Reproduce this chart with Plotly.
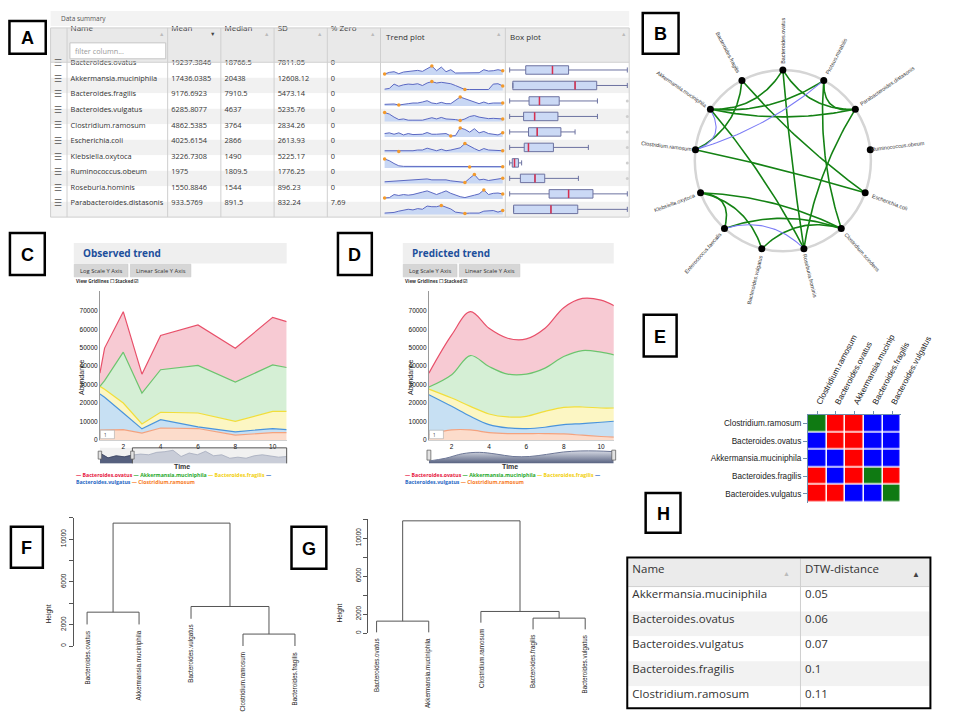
import math
import plotly.graph_objects as go

W, H = 957, 718

# ======================= DATA =======================
# ---- Panel A : data summary ----
summary_names = ['Bacteroides.ovatus', 'Akkermansia.muciniphila', 'Bacteroides.fragilis',
                 'Bacteroides.vulgatus', 'Clostridium.ramosum', 'Escherichia.coli',
                 'Klebsiella.oxytoca', 'Ruminococcus.obeum', 'Roseburia.hominis',
                 'Parabacteroides.distasonis']
summary_mean = [19237.3846, 17436.0385, 9176.6923, 6285.8077, 4862.5385, 4025.6154,
                3226.7308, 1975, 1550.8846, 933.5769]
summary_median = [18766.5, 20438, 7910.5, 4637, 3764, 2866, 1490, 1809.5, 1544, 891.5]
summary_sd = [7811.05, 12608.12, 5473.14, 5235.76, 2834.26, 2613.93, 5225.17, 1776.25, 896.23, 832.24]
summary_zero = [0, 0, 0, 0, 0, 0, 0, 0, 0, 7.69]

# sparkline levels (relative abundance per sample, read from the trend column)
trend_levels = [
    [3, 8, 10, 4, 9, 11, 12, 14, 11, 18, 27, 13, 24, 10, 16, 6, 6, 6, 6, 6, 7, 16, 12, 13, 16, 13],
    [6, 8, 20, 14, 18, 20, 19, 21, 16, 23, 27, 23, 25, 23, 21, 16, 10, 5, 5, 5, 5, 5, 5, 20, 21, 15],
    [8, 9, 9, 6, 9, 10, 12, 12, 15, 19, 12, 10, 14, 10, 10, 20, 30, 25, 20, 15, 10, 15, 10, 12, 13, 12],
    [31, 26, 16, 8, 10, 6, 6, 6, 6, 10, 14, 10, 15, 10, 10, 8, 5, 10, 18, 21, 16, 14, 11, 12, 11, 10],
    [13, 15, 11, 15, 9, 13, 10, 11, 11, 16, 11, 11, 11, 13, 6, 7, 29, 25, 17, 27, 15, 19, 13, 11, 9, 15],
    [10, 10, 10, 8, 10, 10, 10, 12, 12, 17, 13, 10, 14, 10, 12, 16, 18, 30, 22, 16, 10, 16, 12, 12, 10, 10],
    [32, 26, 16, 8, 6, 6, 6, 6, 5, 5, 6, 5, 6, 5, 6, 6, 6, 5, 4, 5, 6, 5, 6, 5, 5, 5],
    [7, 8, 9, 9, 10, 11, 11, 12, 13, 16, 13, 13, 12, 13, 10, 8, 7, 5, 18, 30, 13, 15, 11, 13, 17, 18],
    [9, 10, 20, 17, 20, 18, 20, 23, 28, 32, 27, 20, 26, 32, 24, 18, 13, 10, 15, 18, 22, 35, 20, 24, 25, 22],
    [8, 9, 10, 14, 16, 20, 18, 22, 20, 30, 28, 28, 32, 26, 21, 11, 8, 7, 8, 8, 8, 14, 14, 16, 11, 16],
]
# box-plot statistics (abundance units)
box_scale_min = [6500, 0, 1500, 500, 1000, 800, 700, 200, 200, 0]
box_lowerfence = [6500, 990, 1500, 500, 1000, 800, 700, 200, 200, 85]
box_q1 = [11100, 990, 5670, 2810, 2890, 2400, 1120, 880, 1100, 85]
box_q3 = [23380, 27200, 12160, 8500, 6140, 5610, 2130, 2430, 2100, 1470]
box_upperfence = [40200, 36760, 20380, 15050, 7560, 9450, 2650, 4570, 2883, 2540]
box_outlier = [None, None, 26810, 20000, 12800, 13730, 19870, 7680, None, None]

# ---- Panel B : interaction network ----
net_nodes = ['Bacteroides.ovatus', 'Proteus.mirabilis', 'Parabacteroides.distasonis',
             'Ruminococcus.obeum', 'Escherichia.coli', 'Clostridium.scindens',
             'Roseburia.hominis', 'Bacteroides.vulgatus', 'Enterococcus.faecalis',
             'Klebsiella.oxytoca', 'Clostridium.ramosum', 'Akkermansia.muciniphila',
             'Bacteroides.fragilis']
positive_edges = [
    ('Bacteroides.ovatus', 'Akkermansia.muciniphila'),
    ('Bacteroides.ovatus', 'Parabacteroides.distasonis'),
    ('Bacteroides.ovatus', 'Roseburia.hominis'),
    ('Bacteroides.fragilis', 'Clostridium.ramosum'),
    ('Bacteroides.fragilis', 'Escherichia.coli'),
    ('Akkermansia.muciniphila', 'Proteus.mirabilis'),
    ('Akkermansia.muciniphila', 'Parabacteroides.distasonis'),
    ('Akkermansia.muciniphila', 'Roseburia.hominis'),
    ('Proteus.mirabilis', 'Parabacteroides.distasonis'),
    ('Proteus.mirabilis', 'Clostridium.scindens'),
    ('Parabacteroides.distasonis', 'Roseburia.hominis'),
    ('Clostridium.ramosum', 'Escherichia.coli'),
    ('Klebsiella.oxytoca', 'Clostridium.scindens'),
    ('Klebsiella.oxytoca', 'Enterococcus.faecalis'),
    ('Klebsiella.oxytoca', 'Bacteroides.vulgatus'),
    ('Enterococcus.faecalis', 'Clostridium.scindens'),
    ('Bacteroides.vulgatus', 'Clostridium.scindens'),
]
negative_edges = [
    ('Proteus.mirabilis', 'Clostridium.ramosum'),
    ('Akkermansia.muciniphila', 'Clostridium.ramosum'),
    ('Enterococcus.faecalis', 'Roseburia.hominis'),
]

# ---- Panel C : observed trend (stacked) ----
obs_time = [0.75, 1, 2, 3, 4, 6, 8, 10, 10.75]
obs_ramosum = [5400, 5400, 5700, 3800, 6600, 6300, 2700, 4100, 4100]
obs_vulgatus = [19600, 17800, 9000, 2300, 4500, 900, 1800, 2200, 1600]
obs_fragilis = [4100, 4300, 5400, 2700, 4000, 7500, 5700, 9300, 9900]
obs_muciniphila = [0, 4700, 27500, 16700, 23000, 25700, 21200, 25100, 23700]
obs_ovatus = [7200, 17600, 21900, 10200, 18500, 21900, 18300, 25700, 24800]
nav_observed = [30, 16, 22, 19, 24, 27, 25, 32, 34, 38, 20, 30, 25, 35, 22, 25, 15, 18, 15, 22, 25, 22, 18, 20]

# ---- Panel D : predicted trend (stacked, smoothed) ----
pred_time = [0.78, 2, 3, 4, 5, 6, 7, 8, 9, 10, 10.7]
pred_ramosum = [3050, 5560, 5560, 4130, 3590, 3590, 3590, 3410, 2690, 1980, 1620]
pred_vulgatus = [21540, 12750, 7360, 4310, 3050, 2690, 3410, 5030, 6290, 7710, 8610]
pred_fragilis = [3050, 4490, 5390, 5740, 5920, 6640, 8620, 9330, 8970, 7720, 7180]
pred_muciniphila = [1080, 12560, 27460, 25670, 23160, 22800, 23330, 27460, 30520, 30160, 28720]
pred_ovatus = [7540, 21540, 23700, 20640, 19390, 19030, 21540, 26390, 28180, 28180, 26570]
nav_predicted = [7, 15, 28, 32, 27, 20, 20, 26, 33, 36, 36, 34]

trend_ticks_y = [0, 10000, 20000, 30000, 40000, 50000, 60000, 70000]
trend_ticks_x = [2, 4, 6, 8, 10]

# ---- Panel E : relation matrix (0 = green, 1 = red, 2 = blue) ----
matrix_cols = ['Clostridium.ramosum', 'Bacteroides.ovatus', 'Akkermansia.mucinip',
               'Bacteroides.fragilis', 'Bacteroides.vulgatus']
matrix_rows = ['Clostridium.ramosum', 'Bacteroides.ovatus', 'Akkermansia.muciniphila',
               'Bacteroides.fragilis', 'Bacteroides.vulgatus']
matrix_codes = [[0, 1, 1, 2, 2],
                [2, 1, 1, 2, 2],
                [2, 2, 1, 2, 2],
                [1, 2, 1, 0, 1],
                [1, 1, 2, 2, 0]]

# ---- Panels F, G : hierarchical clustering ----
f_leaves = ['Bacteroides.ovatus', 'Akkermansia.muciniphila', 'Bacteroides.vulgatus',
            'Clostridium.ramosum', 'Bacteroides.fragilis']
f_merges = [(-4, -5), (-1, -2), (-3, 1), (2, 3)]
f_heights = [1117, 3166, 3696, 11490]
g_leaves = ['Bacteroides.ovatus', 'Akkermansia.muciniphila', 'Clostridium.ramosum',
            'Bacteroides.fragilis', 'Bacteroides.vulgatus']
g_merges = [(-1, -2), (-4, -5), (-3, 2), (1, 3)]
g_heights = [1258, 1572, 2275, 11813]
dendro_ticks = [0, 2000, 4000, 6000, 8000, 10000, 12000]
dendro_ticktext = ['0', '2000', '', '6000', '', '10000', '']

# ---- Panel H : DTW distances ----
dtw_names = ['Akkermansia.muciniphila', 'Bacteroides.ovatus', 'Bacteroides.vulgatus',
             'Bacteroides.fragilis', 'Clostridium.ramosum']
dtw_values = [0.05, 0.06, 0.07, 0.1, 0.11]

# ======================= HELPERS =======================
fig = go.Figure()
shapes, annots, lay = [], [], {}
UI = 'Open Sans'
RF = 'Liberation Sans'
TXT_OFF = 18.0      # plotly table: text centre sits ~18 px below the cell top


def fx(p):
    return p / W


def fy(p):
    return 1 - p / H


def rect(x0, y0, x1, y1, fill='rgba(0,0,0,0)', line=None, lw=1, layer='below'):
    shapes.append(dict(type='rect', xref='paper', yref='paper', x0=fx(x0), x1=fx(x1),
                       y0=fy(y1), y1=fy(y0), fillcolor=fill, layer=layer,
                       line=dict(color=line if line else 'rgba(0,0,0,0)', width=lw if line else 0)))


def seg(x0, y0, x1, y1, color, w=1, layer='above'):
    shapes.append(dict(type='line', xref='paper', yref='paper', x0=fx(x0), x1=fx(x1),
                       y0=fy(y0), y1=fy(y1), line=dict(color=color, width=w), layer=layer))


def label(x, y, s, size=8, color='#333', xa='left', ya='middle', angle=0, family=UI, **kw):
    annots.append(dict(xref='paper', yref='paper', x=fx(x), y=fy(y), text=s, showarrow=False,
                       xanchor=xa, yanchor=ya, textangle=angle,
                       font=dict(size=size, color=color, family=family), **kw))


def axes(n, xpx, ypx, xr=None, yr=None):
    xa = dict(domain=[fx(xpx[0]), fx(xpx[1])], anchor='y%d' % n, visible=False, fixedrange=True)
    ya = dict(domain=[fy(ypx[1]), fy(ypx[0])], anchor='x%d' % n, visible=False, fixedrange=True)
    if xr is not None:
        xa['range'] = xr
    if yr is not None:
        ya['range'] = yr
    lay['xaxis%d' % n] = xa
    lay['yaxis%d' % n] = ya
    return 'x%d' % n, 'y%d' % n


def fmt(v):
    return ('%d' % v) if float(v).is_integer() else repr(v)


NOLINE = dict(color='rgba(0,0,0,0)', width=0)
NOFILL = dict(color='rgba(0,0,0,0)')

# ======================= PANEL A =======================
TOP, HDR, ROW = 20, 54.5, 15.55
N = len(summary_names)
BOT = HDR + N * ROW
rect(44, 3, 642, 18, fill='#f3f3f3')
label(53, 10.5, 'Data summary', size=6.5, color='#555')
rect(44, TOP, 642, HDR, fill='#e9e9e9')
for i in range(N):
    y0 = HDR + i * ROW
    rect(44, y0, 642, y0 + ROW, fill='white' if i % 2 == 0 else '#f1f1f1')

dy = TXT_OFF - ROW / 2 + 0.4
tab_y = [fy(BOT - dy + 12), fy(TOP - dy)]
# icon + name columns
fig.add_trace(go.Table(
    domain=dict(x=[fx(39), fx(205)], y=tab_y),
    columnwidth=[17.5, 148.5],
    header=dict(values=['', 'Name'], height=HDR - TOP, fill=NOFILL, line=NOLINE,
                align='left', font=dict(size=8, color='#333', family=UI)),
    cells=dict(values=[['☰'] * N, summary_names], height=ROW, fill=NOFILL, line=NOLINE,
               align='left', font=dict(size=[8.5, 7.4], color=['#555', '#333'], family=UI)),
))
# numeric columns
fig.add_trace(go.Table(
    domain=dict(x=[fx(160.5), fx(385)], y=tab_y),
    columnwidth=[55, 55, 55, 59.5],
    header=dict(values=['Mean', 'Median', 'SD', '% Zero'], height=HDR - TOP, fill=NOFILL, line=NOLINE,
                align='left', font=dict(size=8, color='#333', family=UI)),
    cells=dict(values=[[fmt(v) for v in summary_mean], [fmt(v) for v in summary_median],
                       [fmt(v) for v in summary_sd], [fmt(v) for v in summary_zero]],
               height=ROW, fill=NOFILL, line=NOLINE, align='left',
               font=dict(size=7.4, color='#333', family=UI)),
))
for x in [44, 61, 165, 220, 275, 330, 385, 514, 642]:
    seg(x, TOP, x, BOT, '#cfcfcf', 1)
for y in [TOP, HDR, BOT]:
    seg(44, y, 642, y, '#cfcfcf', 1)
rect(64, 35, 163, 51, fill='white', line='#c6c6c6', layer='above')
label(67, 43, 'filter column...', size=7.3, color='#999')
label(389, 29, 'Trend plot', size=8, color='#333')
label(517, 29, 'Box plot', size=8, color='#333')
for x, s, c in [(159, '▲', '#bbb'), (211, '▼', '#444'), (267, '▲', '#bbb'), (322, '▲', '#bbb'),
                (377, '▲', '#bbb'), (507, '▲', '#bbb'), (636, '▲', '#bbb')]:
    label(x, 26, s, size=5.5, color=c, xa='center')

for i in range(N):
    row_top = HDR + i * ROW
    vals = trend_levels[i]
    mn, mx = min(vals), max(vals)
    span = mx - mn
    xa, ya = axes(10 + i, (388, 512.5), (row_top + 3.5, row_top + 12.8),
                  [-0.25, len(vals) - 0.75], [mn - 0.125 * span, mx + 0.04 * span])
    idx = list(range(len(vals)))
    fig.add_trace(go.Scatter(x=idx, y=vals, xaxis=xa, yaxis=ya, mode='lines', fill='tozeroy',
                             fillcolor='#c8d7f4', line=dict(color='#5b68c2', width=1), hoverinfo='skip'))
    spots = sorted({vals.index(mn), vals.index(mx), len(vals) - 1})
    fig.add_trace(go.Scatter(x=spots, y=[vals[k] for k in spots], xaxis=xa, yaxis=ya, mode='markers',
                             marker=dict(size=3.5, color='#f39a2c'), cliponaxis=False, hoverinfo='skip'))

    lo = box_scale_min[i]
    hi = max(v for v in [box_upperfence[i], box_outlier[i]] if v is not None)
    pad = 0.012 * (hi - lo)
    xa, ya = axes(20 + i, (517, 641.5), (row_top + 1.5, row_top + 14), [lo - pad, hi + pad], [-0.5, 0.5])
    fig.add_trace(go.Box(orientation='h', y=[0], q1=[box_q1[i]], median=[summary_median[i]],
                         q3=[box_q3[i]], lowerfence=[box_lowerfence[i]], upperfence=[box_upperfence[i]],
                         xaxis=xa, yaxis=ya, width=0.68, whiskerwidth=0.6, boxpoints=False,
                         fillcolor='#cbd9f5', line=dict(color='#6c72a0', width=1), hoverinfo='skip'))
    fig.add_trace(go.Scatter(x=[summary_median[i]] * 2, y=[-0.33, 0.33], xaxis=xa, yaxis=ya, mode='lines',
                             line=dict(color='#d8304f', width=1.5), hoverinfo='skip'))
    if box_outlier[i] is not None:
        fig.add_trace(go.Scatter(x=[box_outlier[i]], y=[0], xaxis=xa, yaxis=ya, mode='markers',
                                 marker=dict(size=3, color='#cfcfcf'), cliponaxis=False, hoverinfo='skip'))

# ======================= PANEL B =======================
R_PX = 91.0
CX, CY = 800.8, 153.3
xa, ya = axes(2, (CX - 101, CX + 101), (CY - 101, CY + 101), [-1.11, 1.11], [-1.11, 1.11])
shapes.append(dict(type='circle', xref=xa, yref=ya, x0=-1, x1=1, y0=-1, y1=1,
                   line=dict(color='#d5d5d5', width=2.5), layer='below'))
nn = len(net_nodes)
ang = {nm: math.radians(90 - k * 360.0 / nn) for k, nm in enumerate(net_nodes)}
pos = {nm: (math.cos(a), math.sin(a)) for nm, a in ang.items()}


def curve(p, q, k=0.3, n=40):
    cx, cy = (p[0] + q[0]) / 2 * (1 - k), (p[1] + q[1]) / 2 * (1 - k)
    xs, ys = [], []
    for j in range(n + 1):
        t = j / n
        xs.append((1 - t) ** 2 * p[0] + 2 * (1 - t) * t * cx + t ** 2 * q[0])
        ys.append((1 - t) ** 2 * p[1] + 2 * (1 - t) * t * cy + t ** 2 * q[1])
    return xs, ys


for edges, color, width in [(positive_edges, '#148214', 1.6), (negative_edges, '#7c7cf6', 1.1)]:
    ex, ey = [], []
    for a, b in edges:
        cxs, cys = curve(pos[a], pos[b])
        ex += cxs + [None]
        ey += cys + [None]
    fig.add_trace(go.Scatter(x=ex, y=ey, xaxis=xa, yaxis=ya, mode='lines',
                             line=dict(color=color, width=width), hoverinfo='skip'))
fig.add_trace(go.Scatter(x=[pos[n][0] for n in net_nodes], y=[pos[n][1] for n in net_nodes],
                         xaxis=xa, yaxis=ya, mode='markers', marker=dict(size=7, color='black'),
                         cliponaxis=False, hoverinfo='skip'))
for nm in net_nodes:
    a = ang[nm]
    L = len(nm) * 2.75
    d = R_PX + 4.5 + L / 2
    deg = math.degrees(a)
    ta = 180 - deg if math.cos(a) < -1e-6 else -deg
    while ta > 180:
        ta -= 360
    while ta < -180:
        ta += 360
    label(CX + d * math.cos(a), CY - d * math.sin(a), nm, size=5.4, color='#333',
          xa='center', angle=ta, family=RF)

# ======================= PANEL C & D =======================
series_style = [  # line colour, fill colour
    ('#f4a27e', '#fcdccb'),   # Clostridium.ramosum
    ('#4a94dc', '#c7e0f3'),   # Bacteroides.vulgatus
    ('#f1de3a', '#fcf6c3'),   # Bacteroides.fragilis
    ('#6cc46e', '#d5efd5'),   # Akkermansia.muciniphila
    ('#e8506a', '#f7cad3'),   # Bacteroides.ovatus
]
legend_colors = {'ovatus': '#e6153c', 'muciniphila': '#1fa82a', 'fragilis': '#f2cf0c',
                 'vulgatus': '#2767c4', 'ramosum': '#f77b1e'}


def trend_panel(n, x0, x1, title, times, stack, nav, shape, xr, nav_dark):
    xa, ya = axes(n, (x0, x1), (284, 434), xr, [0, 80770])
    for vals, (lc, fc) in zip(stack, series_style):
        fig.add_trace(go.Scatter(x=times, y=vals, xaxis=xa, yaxis=ya, mode='lines', stackgroup='s%d' % n,
                                 line=dict(color=lc, width=1.2, shape=shape, smoothing=1.0),
                                 fillcolor=fc, hoverinfo='skip'))
    lay['xaxis%d' % n].update(visible=True, showgrid=False, zeroline=False, showline=True,
                              linecolor='#d0d0d0', tickvals=trend_ticks_x, ticks='',
                              tickfont=dict(size=6.5, color='#111', family=RF))
    lay['yaxis%d' % n].update(visible=True, showgrid=False, zeroline=False, showline=True,
                              linecolor='#9a9a9a', tickvals=trend_ticks_y, tickformat='d', ticks='',
                              tickfont=dict(size=6.5, color='#111', family=RF))
    # title bar, buttons
    rect(x0 - 27, 236, x1, 256.5, fill='#efefef')
    label(x0 - 20, 246.3, '<b>%s</b>' % title, size=10, color='#1d4f9c')
    rect(x0 - 26.5, 257.3, x0 + 29, 270, fill='#d6d6d6', line='#c8c8c8', lw=0.6)
    label(x0 + 1.2, 263.7, 'Log Scale Y Axis', size=5.8, color='#333', xa='center')
    rect(x0 + 31.5, 257.3, x0 + 94, 270, fill='#d6d6d6', line='#c8c8c8', lw=0.6)
    label(x0 + 62.7, 263.7, 'Linear Scale Y Axis', size=5.8, color='#333', xa='center')
    label(x0 - 26.5, 274, '<b>View Gridlines ☐ Stacked ☑</b>', size=4.6, color='#333')
    label(x0 - 19, 371, 'Abundance', size=7, color='#222', xa='center', angle=-90, family=RF)
    label((x0 + x1) / 2 - 12, 460.8, '<b>Time</b>', size=7, color='#333', xa='center', family=RF)
    rect(x0 + 0.5, 424, x0 + 15, 432.5, fill='white', line='#aaaaaa', lw=0.6, layer='above')
    label(x0 + 2, 428.3, '1', size=4.5, color='#333')
    # range selector
    xa2, ya2 = axes(n + 1, (x0, x1), (441.7, 457.3), [0, len(nav) - 1], [0, 45])
    idx = list(range(len(nav)))
    if nav_dark is None:
        fig.add_trace(go.Scatter(x=idx, y=nav, xaxis=xa2, yaxis=ya2, mode='lines', fill='tozeroy',
                                 line=dict(color='#6d7796', width=1, shape='spline'),
                                 fillgradient=dict(type='vertical', start=0, stop=40,
                                                   colorscale=[[0, '#56607f'], [1, '#e3e6ee']]),
                                 hoverinfo='skip'))
        for hx in (x0, x1):
            rect(hx - 2, 444, hx + 2, 454, fill='#e2e2e2', line='#555', lw=0.7, layer='above')
    else:
        rect(x0, 441.7, x1, 457.3, fill='#f1f1f1')
        fig.add_trace(go.Scatter(x=idx, y=nav, xaxis=xa2, yaxis=ya2, mode='lines', fill='tozeroy',
                                 fillcolor='#c9cdd8', line=dict(color='#a5abbc', width=0.8), hoverinfo='skip'))
        fig.add_trace(go.Scatter(x=idx[:nav_dark + 1], y=nav[:nav_dark + 1], xaxis=xa2, yaxis=ya2,
                                 mode='lines', fill='tozeroy', fillcolor='#56607e',
                                 line=dict(color='#3a435f', width=0.8), hoverinfo='skip'))
        wx = x0 + (x1 - x0) * nav_dark / (len(nav) - 1)
        seg(wx, 441.7, x1, 441.7, '#555', 1)
        seg(x1, 441.7, x1, 457.3, '#555', 1)
        seg(wx, 441.7, wx, 457.3, '#555', 1)
        for hx in (x0, wx):
            rect(hx - 1.8, 445, hx + 1.8, 453, fill='#e2e2e2', line='#555', lw=0.7, layer='above')
    # legend (two lines in one text block)
    c = legend_colors
    l1 = ("<span style='color:%s'>— Bacteroides.ovatus</span> <span style='color:%s'>— Akkermansia.muciniphila</span> "
          "<span style='color:%s'>— Bacteroides.fragilis</span> <span style='color:%s'>—</span>"
          % (c['ovatus'], c['muciniphila'], c['fragilis'], c['vulgatus']))
    l2 = ("<span style='color:%s'>Bacteroides.vulgatus</span> <span style='color:%s'>— Clostridium.ramosum</span>"
          % (c['vulgatus'], c['ramosum']))
    label(x0 - 27, 472.8, '<b>%s<br>%s</b>' % (l1, l2), size=5.2, family=UI, align='left')


trend_panel(6, 95, 288, 'Observed trend', obs_time,
            [obs_ramosum, obs_vulgatus, obs_fragilis, obs_muciniphila, obs_ovatus],
            nav_observed, 'linear', [0.75, 10.75], 4)
trend_panel(8, 435, 626, 'Predicted trend', pred_time,
            [pred_ramosum, pred_vulgatus, pred_fragilis, pred_muciniphila, pred_ovatus],
            nav_predicted, 'spline', [0.78, 10.68], None)

# ======================= PANEL E =======================
xa, ya = axes(3, (826.7, 923.3), (408.3, 496.7))
fig.add_trace(go.Heatmap(z=matrix_codes, x=matrix_cols, y=matrix_rows, xaxis=xa, yaxis=ya,
                         zmin=0, zmax=2, showscale=False, xgap=1.5, ygap=1.5, hoverinfo='skip',
                         colorscale=[[0, '#0f7a12'], [0.333, '#0f7a12'], [0.334, '#ff0000'],
                                     [0.666, '#ff0000'], [0.667, '#0000ff'], [1, '#0000ff']]))
axc = '#6f8fae'
lay['xaxis3'].update(visible=True, side='top', tickangle=-62, ticks='outside', ticklen=3, tickcolor=axc,
                     showline=True, linecolor=axc, showgrid=False, zeroline=False,
                     tickfont=dict(size=8.2, color='#222', family=RF))
lay['yaxis3'].update(visible=True, autorange='reversed', ticks='outside', ticklen=4, tickcolor=axc,
                     showline=True, linecolor=axc, showgrid=False, zeroline=False,
                     tickfont=dict(size=8.2, color='#222', family=RF))

# ======================= PANELS F & G =======================


def dendrogram(n, xpx, ypx, xr, leaves, merges, heights, hpx):
    xa, ya = axes(n, xpx, ypx, xr, [0, 12000])
    hang = 0.1 * max(heights)
    node_x, node_h = {}, {}
    sx, sy = [], []
    leaf_bottom = {}
    for k, (a, b) in enumerate(merges, start=1):
        h = heights[k - 1]
        pts = []
        for c in (a, b):
            if c < 0:
                pts.append((-c, h - hang))
                leaf_bottom[-c] = h - hang
            else:
                pts.append((node_x[c], node_h[c]))
        (x1, y1), (x2, y2) = pts
        sx += [x1, x1, x2, x2, None]
        sy += [y1, h, h, y2, None]
        node_x[k], node_h[k] = (x1 + x2) / 2, h
    fig.add_trace(go.Scatter(x=sx, y=sy, xaxis=xa, yaxis=ya, mode='lines', cliponaxis=False,
                             line=dict(color='#555', width=1), hoverinfo='skip'))
    lay['yaxis%d' % n].update(visible=True, showgrid=False, zeroline=False, showline=True, linecolor='#555',
                              ticks='outside', ticklen=4, tickcolor='#555', tickvals=dendro_ticks,
                              ticktext=dendro_ticktext, tickangle=-90,
                              tickfont=dict(size=6.5, color='#222', family=RF))
    for i, nm in enumerate(leaves, start=1):
        annots.append(dict(xref=xa, yref=ya, x=i, y=max(leaf_bottom[i], 0), text=nm, showarrow=False,
                           xanchor='center', yanchor='top', textangle=-90, yshift=-4,
                           font=dict(size=6.3, color='#222', family=RF)))
    label(hpx[0], hpx[1], 'Height', size=6.5, color='#222', xa='center', angle=-90, family=RF)


dendrogram(4, (68.3, 310), (511.8, 640.7), [0.75, 5.25], f_leaves, f_merges, f_heights, (43.3, 608))
dendrogram(5, (372.3, 610), (513.2, 627.7), [0.84, 5.25], g_leaves, g_merges, g_heights, (342.7, 607.5))

# ======================= PANEL H =======================
rect(641, 553, 952, 581, fill='#ebebeb')
for i in range(len(dtw_names)):
    y0 = 581 + i * 25
    rect(641, y0, 952, min(y0 + 25, 702), fill='white' if i % 2 == 0 else '#f2f2f2')
hdy = TXT_OFF - 12.5
fig.add_trace(go.Table(
    domain=dict(x=[fx(637), fx(950)], y=[fy(706 - hdy), fy(556 - hdy)]),
    columnwidth=[179, 134],
    header=dict(values=['Name', 'DTW-distance'], height=25, fill=NOFILL, line=NOLINE, align='left',
                font=dict(size=11.5, color='#333', family=UI)),
    cells=dict(values=[dtw_names, [fmt(v) for v in dtw_values]], height=25, fill=NOFILL, line=NOLINE,
               align='left', font=dict(size=11.5, color='#333', family=UI)),
))
seg(819, 553, 819, 702, '#cfcfcf', 1)
seg(641, 581, 952, 581, '#cfcfcf', 1)
label(805, 568, '▲', size=7, color='#bbb', xa='center')
label(938, 568, '▲', size=8, color='#444', xa='center')
rect(640, 551.7, 953.3, 703.3, line='black', lw=2, layer='above')

# ======================= PANEL LETTERS =======================
panel_boxes = {'A': (1.5, 13, 39, 46), 'B': (656, 5, 693, 46), 'C': (2, 226, 38, 268),
               'D': (341, 226, 376, 268), 'E': (657, 308, 691, 350), 'F': (3, 521, 36, 562),
               'G': (293, 521, 329, 563), 'H': (659, 487, 695, 527)}
for k, (x0, y0, x1, y1) in panel_boxes.items():
    rect(x0, y0, x1, y1, fill='white', line='black', lw=2.5, layer='above')
    label((x0 + x1) / 2, (y0 + y1) / 2 + 1, '<b>%s</b>' % k, size=18, color='black', xa='center', family=RF)

fig.update_layout(width=W, height=H, margin=dict(l=0, r=0, t=0, b=0), paper_bgcolor='white',
                  plot_bgcolor='rgba(0,0,0,0)', showlegend=False, shapes=shapes, annotations=annots,
                  hovermode=False, **lay)
fig.write_html('out.html')
